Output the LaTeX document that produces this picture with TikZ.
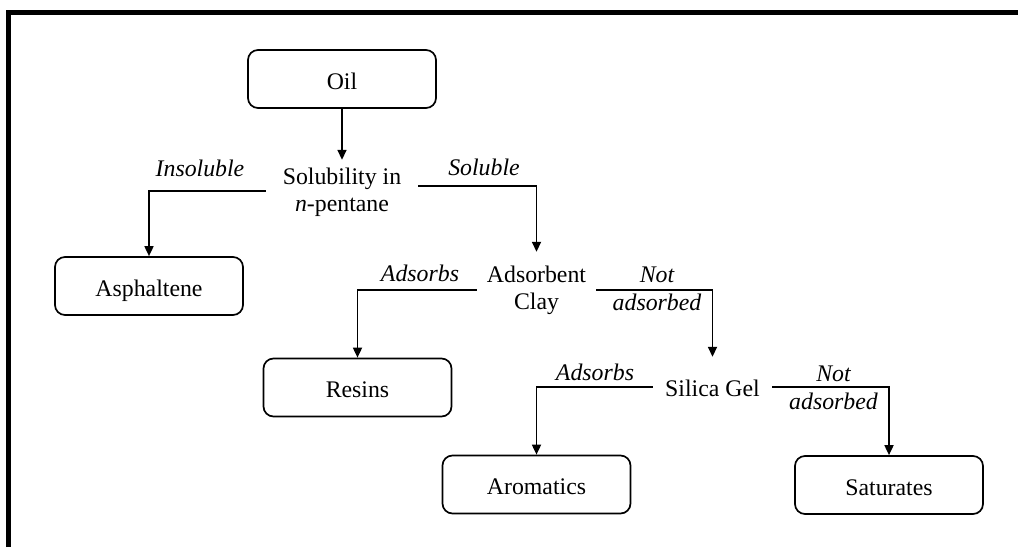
\documentclass[tikz,border=0pt]{standalone}
\usepackage{fontspec}
\setmainfont{Liberation Serif}
\usetikzlibrary{arrows.meta}
\begin{document}
\begin{tikzpicture}[x=1pt,y=-1pt,
  every node/.style={font=\fontsize{23.8}{27}\selectfont},
  box/.style={draw, line width=1.7pt, rounded corners=10pt, minimum width=188pt, minimum height=58pt, inner sep=0pt, text height=20pt, text depth=0pt},
  decision/.style={inner sep=0pt, align=center},
  lbl/.style={inner sep=0pt, align=center, font=\fontsize{23.8}{28}\selectfont\itshape},
  conn/.style={line width=1.7pt, -{Triangle[length=10pt,width=9pt]}},
  frame/.style={line width=5pt}]
\useasboundingbox (0,0) rectangle (1018,547);
\draw[frame] (8.5,547) -- (8.5,12.5) -- (1018,12.5);

\node[box] (oil) at (342,79) {Oil};
\node[decision, minimum width=152pt, minimum height=64pt] (sol) at (342,192) {Solubility in\\\textit{n}-pentane};
\node[box] (asph) at (149,286) {Asphaltene};
\node[decision, minimum width=119pt, minimum height=76pt] (adc) at (536.5,290) {Adsorbent\\Clay};
\node[box] (res) at (357.5,387.5) {Resins};
\node[decision, minimum width=119pt, minimum height=62pt] (sil) at (712.5,388) {Silica Gel};
\node[box] (aro) at (536.5,484.5) {Aromatics};
\node[box] (sat) at (889,485) {Saturates};

\draw[conn] (oil.south) -- (sol.north);
\draw[conn] ([yshift=1pt]sol.west) -| (asph.north);
\draw[conn] ([yshift=6pt]sol.east) -| (adc.north);
\draw[conn] (adc.west) -| (res.north);
\draw[conn] (adc.east) -| (sil.north);
\draw[conn] ([yshift=1pt]sil.west) -| (aro.north);
\draw[conn] ([yshift=1pt]sil.east) -| (sat.north);

\node[lbl] (l1) at (200,168) {Insoluble};
\node[lbl] (l2) at (484,167) {Soluble};
\node[lbl] (l3) at (420,273) {Adsorbs};
\node[lbl] (l4) at (657,289) {Not\\adsorbed};
\node[lbl] (l5) at (595,372) {Adsorbs};
\node[lbl] (l6) at (833.5,387.5) {Not\\adsorbed};
\end{tikzpicture}
\end{document}
